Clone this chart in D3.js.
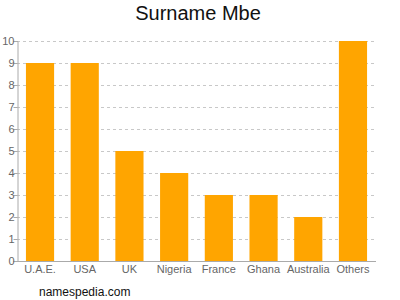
<!DOCTYPE html>
<html><head><meta charset="utf-8">
<script src="https://cdn.jsdelivr.net/npm/d3@7"></script>
<style>body{margin:0;background:#fff}svg{display:block}</style>
</head><body>
<svg id="c" width="400" height="300"></svg>
<script>
const categories = ["U.A.E.", "USA", "UK", "Nigeria", "France", "Ghana", "Australia", "Others"];
const values = [9, 9, 5, 4, 3, 3, 2, 10];
const yTicks = [0,1,2,3,4,5,6,7,8,9,10];

const svg = d3.select("#c");
const m = {l:17, r:24, t:41, b:39};
const W = 400, H = 300;
const x = d3.scaleBand().domain(categories).range([m.l, W-m.r]).paddingInner(0.37).paddingOuter(0.2);
const y = d3.scaleLinear().domain([0,10]).range([H-m.b, m.t]);

// grid
svg.append("g").selectAll("line").data(yTicks.filter(d=>d>0)).join("line")
  .attr("x1", m.l).attr("x2", W-m.r)
  .attr("y1", d=>y(d)+0.5).attr("y2", d=>y(d)+0.5)
  .attr("stroke", "#c8c8c8").attr("stroke-dasharray", "3,3");

// bars
svg.append("g").selectAll("rect").data(categories).join("rect")
  .attr("x", d=>x(d)).attr("width", x.bandwidth())
  .attr("y", (d,i)=>y(values[i])).attr("height", (d,i)=>y(0)-y(values[i]))
  .attr("fill", "#ffa500");

// y axis
const ya = svg.append("g").attr("transform", `translate(${m.l+0.5},0)`)
  .call(d3.axisLeft(y).tickValues(yTicks).tickSize(4).tickFormat(d3.format("d")));
ya.select(".domain").attr("stroke", "#aaa");
ya.selectAll(".tick line").attr("stroke", "#aaa");
ya.selectAll("text").attr("fill", "#666").attr("font-family", "Liberation Sans, Arial, sans-serif").attr("font-size", 11).attr("x", -3);

// x axis
const xa = svg.append("g").attr("transform", `translate(0,${H-m.b+0.5})`)
  .call(d3.axisBottom(x).tickSize(0).tickPadding(4));
xa.select(".domain").attr("stroke", "#aaa").attr("d", `M${m.l},0H${W-m.r}`);
xa.selectAll("text").attr("fill", "#666").attr("font-family", "Liberation Sans, Arial, sans-serif").attr("font-size", 11);

svg.append("text").attr("x", 198).attr("y", 20).attr("text-anchor", "middle")
  .attr("font-family", "Liberation Sans, Arial, sans-serif").attr("font-size", 20).attr("fill", "#111")
  .text("Surname Mbe");
svg.append("text").attr("x", 39).attr("y", 296).attr("font-family", "Liberation Sans, Arial, sans-serif")
  .attr("font-size", 12).attr("fill", "#111").text("namespedia.com");
</script>
</body></html>
